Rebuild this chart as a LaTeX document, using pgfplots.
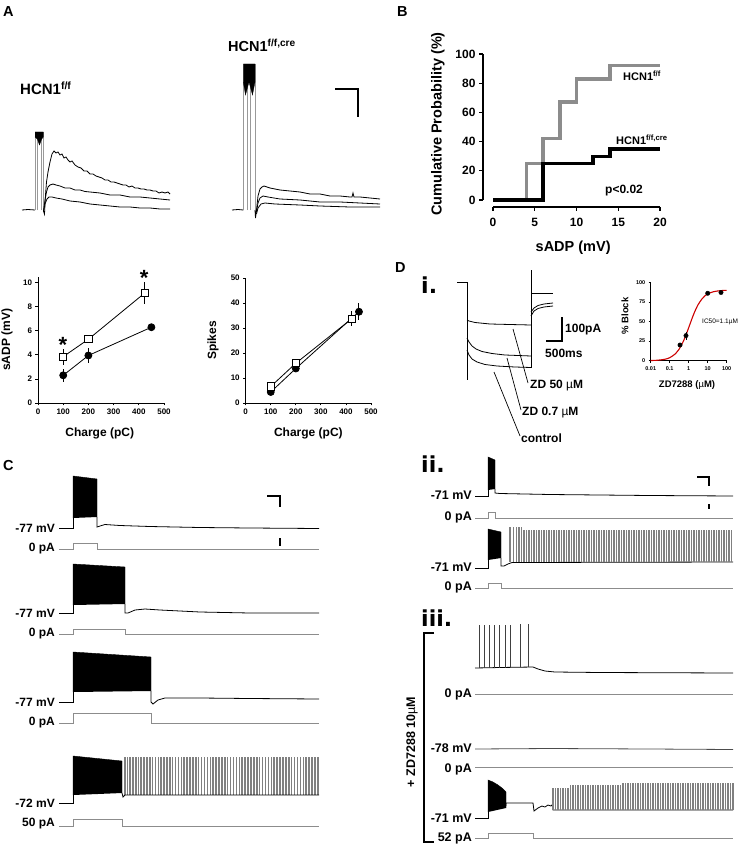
\documentclass[border=0pt]{standalone}
\usepackage{pgfplots}
\pgfplotsset{compat=1.18}
\usepackage{fontspec}
\setmainfont{Liberation Sans}
\newfontfamily\dvs{DejaVu Sans}
\newcommand\fs[1]{\fontsize{#1}{#1}\selectfont}
\tikzset{
  lab/.style={font=\bfseries\fs{12}, inner sep=0pt},
  labd/.style={font=\bfseries\fs{12.5}, inner sep=0pt},
  vtr/.style={black, line width=0.8pt},
  itr/.style={black!45, line width=0.8pt},
  pul/.style={black!40, line width=0.6pt},
  sb/.style={black, line width=1.2pt},
}
\begin{document}
\begin{tikzpicture}
\useasboundingbox (0pt,0pt) rectangle (740pt,853pt);
% ---------------- overlay axis: traces in pixel coordinates ----------------
\begin{axis}[at={(0pt,0pt)}, anchor=south west, scale only axis, width=740pt, height=853pt,
  xmin=0, xmax=740, ymin=0, ymax=853, y dir=reverse, hide axis, clip=false]
% panel letters
\node[font=\bfseries\fs{14.5}, inner sep=0pt, anchor=base west] at (axis cs:3,17) {A};
\node[font=\bfseries\fs{14.5}, inner sep=0pt, anchor=base west] at (axis cs:397,17) {B};
\node[font=\bfseries\fs{14.5}, inner sep=0pt, anchor=base west] at (axis cs:3,470) {C};
\node[font=\bfseries\fs{14.5}, inner sep=0pt, anchor=base west] at (axis cs:395,272) {D};
% ---- A traces ----
\node[font=\bfseries\fs{15}, inner sep=0pt, anchor=base west] at (axis cs:20,95) {HCN1\textsuperscript{f/f}};
\node[font=\bfseries\fs{14.5}, inner sep=0pt, anchor=base west] at (axis cs:228,52) {HCN1\textsuperscript{f/f,cre}};
\addplot[vtr] coordinates {(22,210)(28,209.5)(35,210)};
\addplot[pul] coordinates {(35,210)(35,132)};
\addplot[pul] coordinates {(37.3,210)(37.3,132)};
\addplot[pul] coordinates {(41.7,210)(41.7,132)};
\addplot[pul] coordinates {(43.3,212)(43.3,132)};
\addplot[fill=black, draw=black, line width=0.3pt] coordinates {(35,132)(43.3,132)(43.3,137)(41.7,139)(39.5,145)(37.3,139)(35,137)};
\addplot[vtr] coordinates {(43.5,211)(44.5,214)(45.5,195)(46.5,182)(48,172)(50,162)(52,154)(54,151)(56,153)(58,152)(60,155)(62,154)(64,158)(66,157)(68,160)(70,162)(72,161)(75,165)(78,167)(81,168)(84,171)(87,171)(90,174)(93,174)(96,176)(99,177)(102,178)(105,180)(108,180)(111,182)(114,182)(117,183)(120,184)(123,185)(126,185)(129,187)(132,186)(135,188)(138,188)(141,189)(144,189)(147,190)(150,190)(153,191)(156,191)(159,193)(162,192)(165,193)(168,192)(170,194)};
\addplot[vtr] coordinates {(43.5,211)(45,200)(46.5,192)(48,187)(50,185)(53,184)(56,185)(60,186)(65,188)(70,188)(75,190)(80,190)(85,191.5)(90,192)(95,192.5)(100,193)(110,195)(120,195)(130,197)(140,197)(150,198)(160,199)(170,200)};
\addplot[vtr] coordinates {(43.5,211)(45,204)(47,199)(49,197)(52,197)(56,198)(62,199)(70,201)(80,202)(90,204)(100,205)(110,206)(120,207)(130,207)(140,208)(150,208)(160,209)(170,209)};
\addplot[vtr] coordinates {(232,210)(238,209.5)(243.3,210)};
\addplot[pul] coordinates {(243.3,210)(243.3,64)};
\addplot[pul] coordinates {(247.3,210)(247.3,64)};
\addplot[pul] coordinates {(250.7,210)(250.7,64)};
\addplot[pul] coordinates {(255,212)(255,64)};
\addplot[fill=black, draw=black, line width=0.3pt] coordinates {(243.3,64)(255,64)(255,82)(252.5,95)(249,82)(245.5,95)(243.3,82)};
\addplot[vtr] coordinates {(255,210)(255.5,218)(256.5,210)(258,196)(260,189)(262,187)(264,186)(267,187)(270,188)(275,189)(280,190)(290,191)(300,192)(310,194)(320,194)(330,196)(340,196)(350,197)(352,197)(353,193)(354,197)(360,197)(370,198)(380,199)};
\addplot[vtr] coordinates {(256.5,212)(258,203)(260,198)(263,196)(268,197)(280,199)(300,200)(320,202)(340,202)(360,203)(380,204)};
\addplot[vtr] coordinates {(256.5,214)(258,208)(261,204)(265,203)(275,204)(300,205)(320,206)(350,207)(380,207)};
\addplot[sb] coordinates {(335,89)(358,89)(358,117)};
% B labels
\node[font=\bfseries\fs{11}, inner sep=0pt, anchor=west] at (axis cs:623,76) {HCN1\textsuperscript{f/f}};
\node[font=\bfseries\fs{11}, inner sep=0pt, anchor=west] at (axis cs:616,140) {HCN1\textsuperscript{f/f,cre}};
\node[font=\bfseries\fs{12}, inner sep=0pt, anchor=west] at (axis cs:605,191) {p<0.02};
% ---- C traces ----
\node[lab, anchor=east] at (axis cs:55,528) {-77 mV};
\node[lab, anchor=east] at (axis cs:55,549) {0 pA};
\node[lab, anchor=east] at (axis cs:55,613) {-77 mV};
\node[lab, anchor=east] at (axis cs:55,634) {0 pA};
\node[lab, anchor=east] at (axis cs:55,702) {-77 mV};
\node[lab, anchor=east] at (axis cs:55,723) {0 pA};
\node[lab, anchor=east] at (axis cs:55,803) {-72 mV};
\node[lab, anchor=east] at (axis cs:55,824) {50 pA};
% C1
\addplot[vtr] coordinates {(59,528)(73,528)(73,518)};
\addplot[fill=black, draw=black, line width=0.4pt] coordinates {(73,518)(73,476)(97,479)(97,517)};
\addplot[vtr] coordinates {(97,517)(97,527)(100,526)(105,524.5)(120,525.5)(150,526.5)(200,527.5)(250,528)(319,528.5)};
\addplot[itr] coordinates {(59,549)(73,549)(73,543)(97,543)(97,549)(319,549)};
\addplot[sb] coordinates {(267,496)(280,496)(280,507)};
\addplot[sb] coordinates {(280,538)(280,546)};
% C2
\addplot[vtr] coordinates {(59,613)(73,613)(73,605)};
\addplot[fill=black, draw=black, line width=0.4pt] coordinates {(73,605)(73,564)(125,567)(125,604)};
\addplot[vtr] coordinates {(125,604)(125,613)(128,613)(135,610)(145,609)(160,610)(200,612)(250,613)(319,613)};
\addplot[itr] coordinates {(59,634)(73,634)(73,629)(125,629)(125,634)(319,634)};
% C3
\addplot[vtr] coordinates {(59,702)(73,702)(73,692)};
\addplot[fill=black, draw=black, line width=0.4pt] coordinates {(73,692)(73,652)(151,657)(151,691)};
\addplot[vtr] coordinates {(151,691)(151,702)(153,704)(158,700)(165,698)(200,698)(250,698.5)(319,699)};
\addplot[itr] coordinates {(59,723)(73,723)(73,713)(151,713)(151,723)(319,723)};
% C4
\addplot[vtr] coordinates {(59,803)(73,803)(73,795)};
\addplot[fill=black, draw=black, line width=0.4pt] coordinates {(73,795)(73,756)(122,761)(122,793)};
\addplot[draw=none, mark=none, error bars/.cd, y dir=plus, y fixed=38, error mark=none,
  error bar style={draw=black!50, line width=1.3pt}] coordinates {
(125,757)(127.5,757)(130,757)(133,757)(136,757)(138.5,757)(141,757)(144,757)(147,757)(150,757)(152.5,757)(155.5,757)(158.5,757)(161,757)(164,757)(167,757)(170,757)(172.5,757)(175.5,757)(178.5,757)(181.5,757)(184,757)(187,757)(190,757)(193,757)(196,757)(198.5,757)(201.5,757)(204.5,757)(207.5,757)(210.5,757)(213,757)(216,757)(219,757)(222,757)(225,757)(227.5,757)(230.5,757)(233.5,757)(236.5,757)(239.5,757)(242,757)(245,757)(248,757)(251,757)(254,757)(257,757)(259.5,757)(262.5,757)(265.5,757)(268.5,757)(271.5,757)(274,757)(277,757)(280,757)(283,757)(286,757)(289,757)(291.5,757)(294.5,757)(297.5,757)(300.5,757)(303.5,757)(306,757)(309,757)(312,757)(315,757)(318,757)};
\addplot[vtr] coordinates {(122,793)(123,797)(125,795)(319,795)};
\addplot[itr] coordinates {(59,826)(73,826)(73,819)(122,819)(122,826)(319,826)};
% ---- D i ----
\node[font=\dvs\bfseries\fs{22}, inner sep=0pt, anchor=base west] at (axis cs:421,293) {i.};
\addplot[vtr] coordinates {(457,282)(467,282)(467,380)};
\addplot[vtr] coordinates {(467,320)(469,321)(475,322.5)(490,324)(510,324.5)(531,325)};
\addplot[vtr] coordinates {(467,338)(469,342)(472,346)(476,349)(482,351.5)(492,353.5)(505,355)(531,356)};
\addplot[vtr] coordinates {(467,350)(469,355)(472,359)(477,362)(485,364.5)(497,366)(515,367)(531,367.5)};
\addplot[vtr] coordinates {(531,368)(531,270)};
\addplot[vtr] coordinates {(531,293)(553,293)};
\addplot[vtr] coordinates {(531,312)(534,308)(538,305.5)(544,304)(553,303)};
\addplot[vtr] coordinates {(531,316)(534,311)(538,308.5)(544,307)(553,306)};
\addplot[sb] coordinates {(546,341)(562,341)(562,317)};
\node[lab, anchor=west] at (axis cs:565,330) {100pA};
\node[lab, anchor=west] at (axis cs:545,353) {500ms};
\addplot[black, line width=0.7pt] coordinates {(513,329)(528,383)};
\addplot[black, line width=0.7pt] coordinates {(507,358)(521,410)};
\addplot[black, line width=0.7pt] coordinates {(494,372)(520,436)};
\node[lab, anchor=west] at (axis cs:530,386) {ZD 50 {\mdseries µ}M};
\node[lab, anchor=west] at (axis cs:522,413) {ZD 0.7 {\mdseries µ}M};
\node[lab, anchor=west] at (axis cs:521,438) {control};
\node[font=\fs{6.5}, inner sep=0pt, anchor=west] at (axis cs:702,322) {IC50=1.1µM};
% ---- D ii ----
\node[font=\dvs\bfseries\fs{22}, inner sep=0pt, anchor=base west] at (axis cs:421,472) {ii.};
\node[labd, anchor=east] at (axis cs:472,495) {-71 mV};
\node[labd, anchor=east] at (axis cs:472,517) {0 pA};
\node[labd, anchor=east] at (axis cs:472,567) {-71 mV};
\node[labd, anchor=east] at (axis cs:472,587) {0 pA};
\addplot[vtr] coordinates {(475,496)(488,496)(488,490)};
\addplot[fill=black, draw=black, line width=0.4pt] coordinates {(488,490)(488,457)(495,460)(495,489)};
\addplot[vtr] coordinates {(495,489)(495,493)(500,493.5)(550,494.5)(650,495.5)(733,496)};
\addplot[itr] coordinates {(475,518)(488,518)(488,512)(495,512)(495,518)(733,518)};
\addplot[sb] coordinates {(697,477)(709,477)(709,486)};
\addplot[sb] coordinates {(709,504)(709,509)};
\addplot[vtr] coordinates {(475,568)(488,568)(488,560)};
\addplot[fill=black, draw=black, line width=0.4pt] coordinates {(488,560)(488,529)(501,532)(501,558)};
\addplot[vtr] coordinates {(501,558)(501,566)(504,566)(508,564)(512,562.5)(733,562)};
\addplot[draw=none, mark=none, error bars/.cd, y dir=plus, y fixed=35, error mark=none,
  error bar style={draw=black!50, line width=1.1pt}] coordinates {(510,527)(513.5,527)(516.5,527)(519,527)(521.5,527)};
\addplot[draw=none, mark=none, error bars/.cd, y dir=plus, y fixed=32, error mark=none,
  error bar style={draw=black!50, line width=1.1pt}] coordinates {
(524,530)(526.5,530)(529,530)(531.5,530)(534,530)(536.5,530)(539,530)(541.5,530)(544,530)(546.5,530)(549,530)(551.5,530)(554,530)(556.5,530)(559,530)(561.5,530)(564,530)(566.5,530)(569,530)(571.5,530)(574,530)(576.5,530)(579,530)(581.5,530)(584,530)(586.5,530)(589,530)(591.5,530)(594,530)(596.5,530)(599,530)(601.5,530)(604,530)(606.5,530)(609,530)(611.5,530)(614,530)(616.5,530)(619,530)(621.5,530)(624,530)(626.5,530)(629,530)(631.5,530)(634,530)(636.5,530)(639,530)(641.5,530)(644,530)(646.5,530)(649,530)(651.5,530)(654,530)(656.5,530)(659,530)(661.5,530)(664,530)(666.5,530)(669,530)(671.5,530)(674,530)(676.5,530)(679,530)(681.5,530)(684,530)(686.5,530)(689,530)(691.5,530)(694,530)(696.5,530)(699,530)(701.5,530)(704,530)(706.5,530)(709,530)(711.5,530)(714,530)(716.5,530)(719,530)(721.5,530)(724,530)(726.5,530)(729,530)(731.5,530)};
\addplot[itr] coordinates {(475,588)(488,588)(488,583)(501,583)(501,588)(733,588)};
% ---- D iii ----
\node[font=\dvs\bfseries\fs{22}, inner sep=0pt, anchor=base west] at (axis cs:421,626) {iii.};
\addplot[black, line width=1.8pt] coordinates {(434,633)(424,633)(424,842)(434,842)};
\node[font=\bfseries\fs{12.5}, inner sep=0pt, rotate=90] at (axis cs:412,742) {+ ZD7288 10{\mdseries µ}M};
\node[labd, anchor=east] at (axis cs:472,694) {0 pA};
\node[labd, anchor=east] at (axis cs:472,748) {-78 mV};
\node[labd, anchor=east] at (axis cs:472,769) {0 pA};
\node[labd, anchor=east] at (axis cs:472,818) {-71 mV};
\node[labd, anchor=east] at (axis cs:472,838) {52 pA};
\addplot[vtr] coordinates {(475,668)(500,667.5)(533,667)(538,669)(545,671)(555,672)(600,672.5)(733,673)};
\addplot[draw=none, mark=none, error bars/.cd, y dir=plus, y fixed=43, error mark=none,
  error bar style={draw=black!75, line width=0.6pt}] coordinates {(479.3,625)(484,625)(489.3,625)(494,625)(499.3,625)(505,625)(510,625)(520,624)(528.3,624)};
\addplot[itr] coordinates {(475,694)(733,694)};
\addplot[black!70, line width=0.8pt] coordinates {(475,749)(550,748.5)(650,749)(733,749.5)};
\addplot[itr] coordinates {(475,767)(733,767)};
\addplot[vtr] coordinates {(475,818)(488,818)(488,812)};
\addplot[fill=black, draw=black, line width=0.4pt] coordinates {(488,812)(488,780)(493,782)(498,785)(502,788)(506,792)(506,808)};
\addplot[vtr] coordinates {(506,806)(506,803)(533,803)(534,811)(538,808)(542,806)(545,807)(548,805)(551,806)(553,804)(553,810)(733,810)};
\addplot[draw=none, mark=none, error bars/.cd, y dir=plus, y fixed=22, error mark=none,
  error bar style={draw=black!50, line width=1.1pt}] coordinates {(553,788)(555.5,788)(558,788)(560.5,788)(563,788)(565.5,788)(568,788)};
\addplot[draw=none, mark=none, error bars/.cd, y dir=plus, y fixed=25, error mark=none,
  error bar style={draw=black!50, line width=1.1pt}] coordinates {(570.5,785)(573,785)(575.5,785)(578,785)(580.5,785)(583,785)(585.5,785)(588,785)(590.5,785)(593,785)(595.5,785)(598,785)(600.5,785)(603,785)(605.5,785)(608,785)(610.5,785)(613,785)(615.5,785)(618,785)(620.5,785)};
\addplot[draw=none, mark=none, error bars/.cd, y dir=plus, y fixed=27, error mark=none,
  error bar style={draw=black!50, line width=1.1pt}] coordinates {(623,783)(625.5,783)(628,783)(630.5,783)(633,783)(635.5,783)(638,783)(640.5,783)(643,783)(645.5,783)(648,783)(650.5,783)(653,783)(655.5,783)(658,783)(660.5,783)(663,783)(665.5,783)(668,783)(670.5,783)(673,783)(675.5,783)(678,783)(680.5,783)(683,783)(685.5,783)(688,783)(690.5,783)(693,783)(695.5,783)(698,783)(700.5,783)(703,783)(705.5,783)(708,783)(710.5,783)(713,783)(715.5,783)(718,783)(720.5,783)(723,783)(725.5,783)(728,783)(730.5,783)(733,783)};
\addplot[itr] coordinates {(475,838)(488,838)(488,833)(533,833)(533,838)(733,838)};
\end{axis}
% ---------------- B: cumulative probability ----------------
\begin{axis}[at={(493pt,653pt)}, anchor=south west, scale only axis, width=167pt, height=146pt,
  xmin=0, xmax=20, ymin=0, ymax=100,
  axis x line=bottom, axis y line=left, axis line style={-, line width=1.2pt},
  axis x line shift=7pt, axis y line shift=10pt,
  xtick={0,5,10,15,20}, ytick={0,20,40,60,80,100},
  tick align=outside, major tick length=4pt, tick style={line width=1.2pt, black},
  /pgf/number format/assume math mode=true,
  tick label style={font=\bfseries\fs{12}},
  xticklabel style={yshift=-4pt},
  xlabel={sADP (mV)}, ylabel={Cumulative Probability (\%)},
  label style={font=\bfseries\fs{14.5}},
  xlabel style={at={(axis description cs:0.48,-0.33)}, anchor=center},
  ylabel style={at={(axis description cs:-0.33,0.52)}, anchor=center},
  clip=false]
\addplot[const plot, black!45, line width=3.6pt] coordinates {(0,0)(4,25)(6,42)(8,67)(10,83)(14,92)(20,92)};
\addplot[const plot, black, line width=3.6pt] coordinates {(0,0)(6,25)(12,29.7)(14,35)(20,35)};
\end{axis}
% ---------------- A: sADP vs charge ----------------
\begin{axis}[at={(38pt,450pt)}, anchor=south west, scale only axis, width=126pt, height=126.3pt,
  xmin=0, xmax=500, ymin=0, ymax=10.5,
  axis lines=left, axis line style={-, line width=0.8pt},
  xtick={0,100,200,300,400,500}, ytick={0,2,4,6,8,10},
  tick align=outside, major tick length=2.5pt, tick style={line width=0.8pt, black},
  /pgf/number format/assume math mode=true,
  tick label style={font=\bfseries\fs{8}},
  xlabel={Charge (pC)}, ylabel={sADP (mV)},
  label style={font=\bfseries\fs{12}},
  xlabel style={at={(axis description cs:0.49,-0.24)}, anchor=center},
  ylabel style={at={(axis description cs:-0.245,0.5)}, anchor=center},
  clip=false]
\addplot[black, line width=0.8pt, mark=*, mark size=3.5pt, mark options={fill=black},
  error bars/.cd, y dir=both, y explicit, error mark=none, error bar style={line width=1pt}]
  coordinates {(100,2.3) +- (0,0.55) (200,3.95) +- (0,0.65) (450,6.3) +- (0,0.2)};
\addplot[black, line width=0.8pt, mark=square*, mark size=3.6pt, mark options={fill=white, line width=1pt},
  error bars/.cd, y dir=both, y explicit, error mark=none, error bar style={line width=1pt}]
  coordinates {(100,3.85) +- (0,0.65) (200,5.3) +- (0,0.3) (424,9.15) +- (0,0.9)};
\node[font=\bfseries\fs{22}, inner sep=0pt] at (axis cs:99,4.85) {*};
\node[font=\bfseries\fs{22}, inner sep=0pt] at (axis cs:421,10.4) {*};
\end{axis}
% ---------------- A: spikes vs charge ----------------
\begin{axis}[at={(245.7pt,450pt)}, anchor=south west, scale only axis, width=125.3pt, height=125pt,
  xmin=0, xmax=500, ymin=0, ymax=50,
  axis lines=left, axis line style={-, line width=0.8pt},
  xtick={0,100,200,300,400,500}, ytick={0,10,20,30,40,50},
  tick align=outside, major tick length=2.5pt, tick style={line width=0.8pt, black},
  /pgf/number format/assume math mode=true,
  tick label style={font=\bfseries\fs{8}},
  xlabel={Charge (pC)}, ylabel={Spikes},
  label style={font=\bfseries\fs{12}},
  xlabel style={at={(axis description cs:0.5,-0.24)}, anchor=center},
  ylabel style={at={(axis description cs:-0.26,0.5)}, anchor=center},
  clip=false]
\addplot[black, line width=0.8pt, mark=*, mark size=3.5pt, mark options={fill=black},
  error bars/.cd, y dir=both, y explicit, error mark=none, error bar style={line width=1pt}]
  coordinates {(100,4.4) +- (0,0.8) (200,13.8) +- (0,1.2) (452,36.5) +- (0,3.5)};
\addplot[black, line width=0.8pt, mark=square*, mark size=3.6pt, mark options={fill=white, line width=1pt},
  error bars/.cd, y dir=both, y explicit, error mark=none, error bar style={line width=1pt}]
  coordinates {(100,6.6) +- (0,0.8) (200,15.9) +- (0,1) (423,33.7) +- (0,3)};
\end{axis}
% ---------------- D i: dose response ----------------
\begin{axis}[at={(650.7pt,492.3pt)}, anchor=south west, scale only axis, width=76pt, height=78.4pt,
  xmode=log, xmin=0.01, xmax=100, ymin=0, ymax=100,
  axis lines=left, axis line style={-, line width=0.6pt},
  xtick={0.01,0.1,1,10,100}, xticklabels={0.01,0.1,1,10,100}, ytick={0,25,50,75,100},
  xminorticks=false,
  tick align=outside, major tick length=2pt, tick style={line width=0.6pt, black},
  /pgf/number format/assume math mode=true,
  tick label style={font=\bfseries\fs{5.5}},
  xlabel={ZD7288 ({\mdseries µ}M)}, ylabel={\% Block},
  label style={font=\bfseries\fs{9.5}},
  xlabel style={at={(axis description cs:0.478,-0.31)}, anchor=center},
  ylabel style={at={(axis description cs:-0.338,0.57)}, anchor=center},
  clip=false]
\addplot[red!80!black, line width=1.1pt, smooth] coordinates {(0.01,0.2)(0.02,0.49)(0.05,1.59)(0.1,3.8)(0.2,8.85)(0.3,14.0)(0.5,23.8)(0.7,32.1)(1,42.2)(1.5,53.9)(2,61.6)(3,70.8)(5,78.8)(7,82.6)(10,85.2)(20,88.0)(50,89.4)(100,89.7)};
\addplot[only marks, black, mark=*, mark size=2.2pt,
  error bars/.cd, y dir=both, y explicit, error mark=none, error bar style={line width=0.7pt}]
  coordinates {(0.35,20) +- (0,0) (0.72,32) +- (0,5) (10,86) +- (0,1) (50,87) +- (0,1)};
\end{axis}
\end{tikzpicture}
\end{document}
